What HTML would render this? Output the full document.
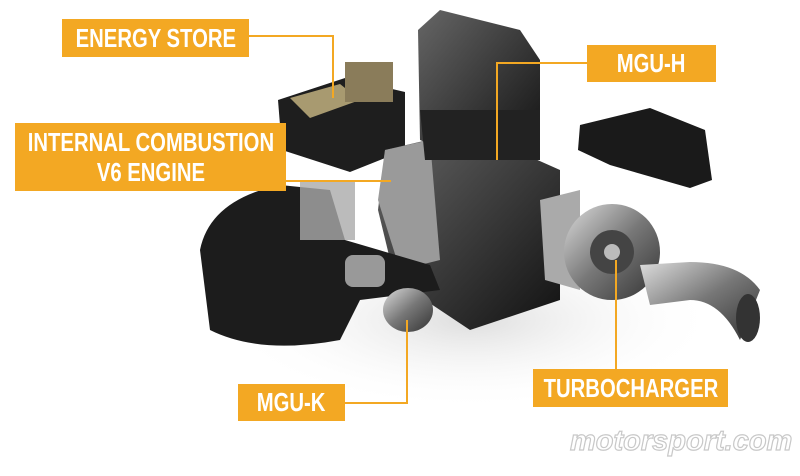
<!DOCTYPE html>
<html><head><style>
body{margin:0;background:#fff;}
.w{position:relative;width:800px;height:476px;overflow:hidden;background:#fff;font-family:"Liberation Sans",sans-serif;}
.b{position:absolute;background:#f3a823;color:#fff;font-weight:bold;text-align:center;white-space:nowrap;display:flex;justify-content:center;align-items:center;}
.b span{display:block;flex:none;transform:scaleX(0.78);transform-origin:center;text-align:center;}
.l{position:absolute;background:#f3a823;}
</style></head><body><div class="w">
<svg width="800" height="476" style="position:absolute;left:0;top:0">
<defs>
<radialGradient id="sh" cx="50%" cy="50%" r="50%"><stop offset="0" stop-color="#ddd"/><stop offset="1" stop-color="#fff" stop-opacity="0"/></radialGradient>
<linearGradient id="met" x1="0" y1="0" x2="1" y2="1"><stop offset="0" stop-color="#ddd"/><stop offset=".5" stop-color="#777"/><stop offset="1" stop-color="#333"/></linearGradient>
<linearGradient id="dk" x1="0" y1="0" x2="1" y2="1"><stop offset="0" stop-color="#666"/><stop offset="1" stop-color="#111"/></linearGradient>
</defs>
<ellipse cx="470" cy="320" rx="250" ry="90" fill="url(#sh)"/>
<path d="M278 100 L345 78 L405 92 L405 150 L350 172 L282 150 Z" fill="#1e1e1e"/>
<path d="M290 98 L340 84 L360 100 L310 118 Z" fill="#a89a70"/>
<rect x="345" y="62" width="48" height="40" fill="#8a7c5a"/>
<path d="M385 150 L470 130 L560 170 L560 300 L470 330 L395 280 L378 210 Z" fill="url(#dk)"/>
<path d="M385 150 L430 140 L440 260 L400 270 L378 200 Z" fill="#9a9a9a"/>
<path d="M418 30 L440 10 L520 30 L540 60 L540 140 L470 160 L420 140 Z" fill="url(#dk)"/>
<path d="M420 110 L540 110 L540 160 L425 160 Z" fill="#222"/>
<path d="M580 125 L650 108 L705 130 L712 180 L690 188 L610 165 L578 150 Z" fill="#1a1a1a"/>
<path d="M200 250 Q210 200 280 185 L330 190 L345 240 L430 265 L440 290 L360 300 L340 340 Q260 355 210 330 Z" fill="#1c1c1c"/>
<rect x="300" y="180" width="55" height="60" fill="#aaa" opacity=".8"/>
<ellipse cx="408" cy="310" rx="25" ry="22" fill="url(#met)"/>
<rect x="345" y="255" width="40" height="32" rx="8" fill="#999"/>
<path d="M540 200 L580 190 L580 290 L545 280 Z" fill="#aaa"/>
<circle cx="612" cy="252" r="48" fill="url(#met)"/>
<circle cx="612" cy="252" r="22" fill="#444"/>
<circle cx="612" cy="252" r="8" fill="#bbb"/>
<path d="M640 265 L690 262 Q740 262 760 290 L740 340 Q720 300 690 300 L650 305 Z" fill="url(#met)"/>
<ellipse cx="748" cy="318" rx="12" ry="24" fill="#333"/>
<text x="570" y="450" font-family="Liberation Sans,sans-serif" font-size="29" font-weight="bold" fill="#fff" stroke="#c8c8c8" stroke-width="1.2" font-style="italic">motorsport.com</text>
</svg>
<div class="l" style="left:249px;top:35px;width:84px;height:2px"></div>
<div class="l" style="left:332px;top:35px;width:2px;height:63px"></div>
<div class="l" style="left:286px;top:180px;width:105px;height:2px"></div>
<div class="l" style="left:497px;top:62px;width:90px;height:2px"></div>
<div class="l" style="left:496px;top:62px;width:2px;height:98px"></div>
<div class="l" style="left:345px;top:402px;width:63px;height:2px"></div>
<div class="l" style="left:406px;top:320px;width:2px;height:84px"></div>
<div class="l" style="left:615px;top:260px;width:2px;height:110px"></div>
<div class="b" style="left:62px;top:19px;width:187px;height:38px;font-size:26px;"><span>ENERGY STORE</span></div>
<div class="b" style="left:15px;top:123px;width:271px;height:68px;font-size:26px;line-height:30px;"><span>INTERNAL COMBUSTION<br>V6 ENGINE</span></div>
<div class="b" style="left:587px;top:45px;width:129px;height:37px;font-size:26px;"><span>MGU-H</span></div>
<div class="b" style="left:238px;top:384px;width:107px;height:37px;font-size:26px;"><span>MGU-K</span></div>
<div class="b" style="left:533px;top:369px;width:195px;height:38px;font-size:26px;"><span>TURBOCHARGER</span></div>
</div></body></html>
